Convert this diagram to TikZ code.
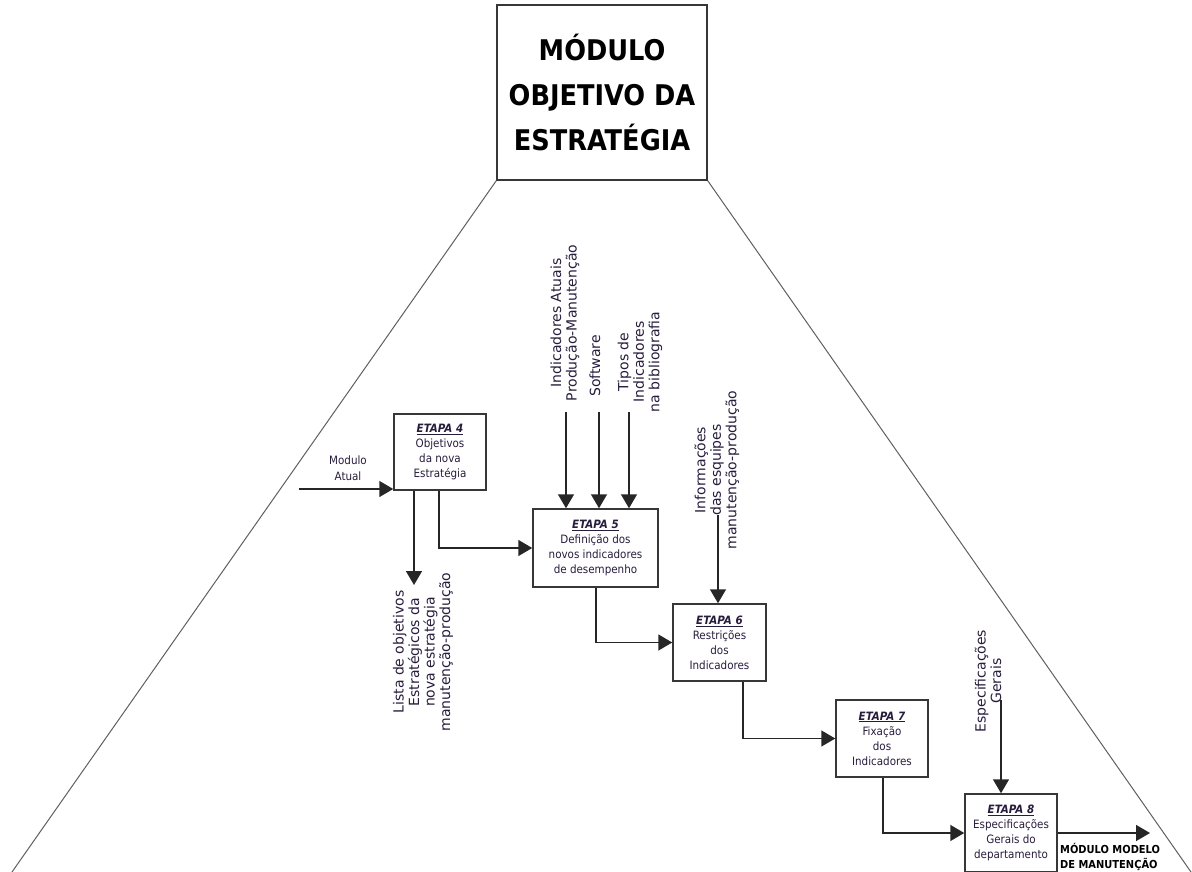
\documentclass[tikz,border=0pt]{standalone}
\usepackage{fontspec}
\setmainfont{DejaVu Sans}
\newfontfamily\cond{DejaVu Sans Condensed}
\usetikzlibrary{arrows.meta}
\definecolor{ink}{RGB}{40,28,60}
\definecolor{frame}{RGB}{55,55,55}
\definecolor{edge}{RGB}{95,95,95}
\tikzset{
  stepbox/.style={draw=frame, line width=1.5pt, inner sep=2pt, align=center,
    font=\cond\fontsize{11.5}{15}\selectfont, text=ink},
  flow/.style={draw=black!85, line width=1.6pt, -{Triangle[length=14pt,width=16pt]}},
  vlabel/.style={rotate=90, align=center, font=\fontsize{14}{15.5}\selectfont,
    text=ink, inner sep=0pt},
  hlabel/.style={align=center, font=\cond\fontsize{11.5}{16}\selectfont,
    text=ink, inner sep=0pt},
  side/.style={draw=edge, line width=1pt},
}
\newcommand\etapa[1]{{\bfseries\itshape\underline{ETAPA #1}}}

\begin{document}
\begin{tikzpicture}[x=1pt,y=-1pt]
\useasboundingbox (0,0) rectangle (1192,872);

% module header and the two sides of the funnel
\node[draw=frame, line width=1.5pt, minimum width=210pt, minimum height=175pt,
      align=center, font=\cond\bfseries\fontsize{28.5}{45}\selectfont]
      (title) at (602,92.5) {MÓDULO\\OBJETIVO DA\\ESTRATÉGIA};
\coordinate (fl) at (12,872);
\coordinate (fr) at (1191,872);
\draw[side] (title.south west) -- (fl);
\draw[side] (title.south east) -- (fr);

% process steps
\node[stepbox, minimum width=92pt, minimum height=76pt] (b4) at (440,452)
  {\etapa{4}\\Objetivos\\da nova\\Estratégia};
\node[stepbox, minimum width=125pt, minimum height=78pt] (b5) at (595.5,548)
  {\etapa{5}\\Definição dos\\novos indicadores\\de desempenho};
\node[stepbox, minimum width=93pt, minimum height=77pt] (b6) at (719.5,642.5)
  {\etapa{6}\\Restrições\\dos\\Indicadores};
\node[stepbox, minimum width=92pt, minimum height=77pt] (b7) at (882,738.5)
  {\etapa{7}\\Fixação\\dos\\Indicadores};
\node[stepbox, minimum width=92pt, minimum height=78pt] (b8) at (1011,833)
  {\etapa{8}\\Especificações\\Gerais do\\departamento};

% external inputs and outputs
\coordinate (in4) at (299,489);
\node[hlabel] (lmod) at (348,468) {Modulo\\Atual};
\draw[flow] (in4) -- (in4 -| b4.west);

\coordinate (o4) at (414,585);
\draw[flow] (o4 |- b4.south) -- (o4);
\node[vlabel] (llista) at (423,652)
  {Lista de objetivos\\Estratégicos da\\nova estratégia\\manutenção-produção};

\coordinate (i5a) at (566,412);
\coordinate (i5b) at (599,412);
\coordinate (i5c) at (629,412);
\draw[flow] (i5a) -- (i5a |- b5.north);
\draw[flow] (i5b) -- (i5b |- b5.north);
\draw[flow] (i5c) -- (i5c |- b5.north);
\node[vlabel] (lind) at (565,323) {Indicadores Atuais\\Produção-Manutenção};
\node[vlabel] (lsoft) at (595,366) {Software};
\node[vlabel] (ltipos) at (640,362) {Tipos de\\Indicadores\\na bibliografia};

\coordinate (i6) at (718,515);
\draw[flow] (i6) -- (i6 |- b6.north);
\node[vlabel] (linfo) at (717,470)
  {Informações\\das esquipes\\manutenção-produção};

\coordinate (i8) at (1001,700);
\draw[flow] (i8) -- (i8 |- b8.north);
\node[vlabel] (lesp) at (988,681) {Especificações\\Gerais};

\coordinate (o8) at (1150,833);
\draw[flow] (b8.east) -- (o8);
\node[hlabel, anchor=west, align=left, text=black,
      font=\cond\bfseries\fontsize{11}{15}\selectfont]
      (lout) at (1060,857) {MÓDULO MODELO\\DE MANUTENÇÃO};

% step-to-step links
\coordinate (k4) at (439,0);
\coordinate (k5) at (596,0);
\coordinate (k6) at (743,0);
\coordinate (k7) at (883,0);
\draw[flow] (k4 |- b4.south) |- (b5.west);
\draw[flow] (k5 |- b5.south) |- (b6.west);
\draw[flow] (k6 |- b6.south) |- (b7.west);
\draw[flow] (k7 |- b7.south) |- (b8.west);
\end{tikzpicture}
\end{document}
